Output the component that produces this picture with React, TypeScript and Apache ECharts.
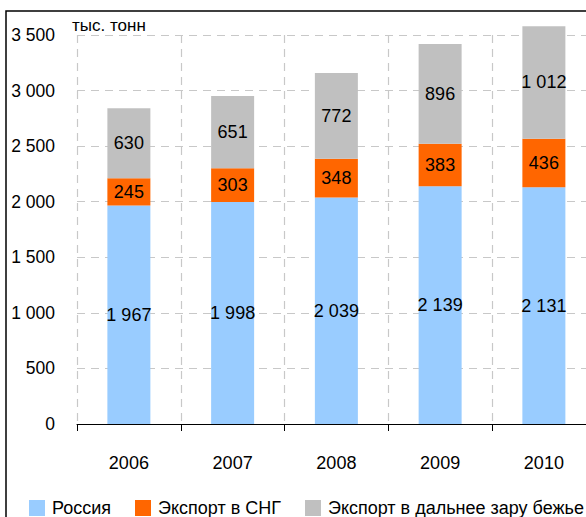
import React, { useEffect, useRef } from "react";
import * as echarts from "echarts";

const categories = ["2006", "2007", "2008", "2009", "2010"];
const russia = [1967, 1998, 2039, 2139, 2131];
const cis = [245, 303, 348, 383, 436];
const farAbroad = [630, 651, 772, 896, 1012];
const seriesNames = ["Россия", "Экспорт в СНГ", "Экспорт в дальнее зару бежье"];
const unitLabel = "тыс. тонн";

const fmt = (v: number) => String(v).replace(/\B(?=(\d{3})+(?!\d))/g, " ");
const FONT = "'Liberation Sans', Arial, sans-serif";

export default function App() {
  const ref = useRef<HTMLDivElement>(null);
  useEffect(() => {
    if (!ref.current) return;
    const chart = echarts.init(ref.current, undefined, { renderer: "svg" });
    const label = {
      show: true,
      position: "inside" as const,
      color: "#000",
      fontSize: 18,
      fontFamily: FONT,
      formatter: (p: any) => fmt(p.value),
    };
    chart.setOption({
      animation: false,
      backgroundColor: "#fff",
      textStyle: { fontFamily: FONT },
      grid: { left: 77, right: 4.25, top: 35, bottom: 93 },
      legend: {
        left: 24,
        top: 494,
        width: 1000,
        itemWidth: 16,
        itemHeight: 16,
        itemGap: 24,
        icon: "rect",
        textStyle: { fontSize: 18, color: "#000", fontFamily: FONT, padding: [0, 0, 0, 2] },
        data: seriesNames,
      },
      graphic: [
        {
          type: "rect",
          shape: { x: 6, y: 11, width: 700, height: 700 },
          style: { fill: "none", stroke: "#000", lineWidth: 1.5 },
          silent: true,
        },
        {
          type: "text",
          left: 72,
          top: 17,
          style: { text: unitLabel, fontSize: 17, fill: "#000", fontFamily: FONT },
        },
      ],
      xAxis: {
        type: "category",
        data: categories,
        axisLine: { lineStyle: { color: "#000", width: 1 } },
        axisTick: { show: true, length: 7, lineStyle: { color: "#000" } },
        axisLabel: { color: "#000", fontSize: 18, margin: 30, fontFamily: FONT },
        splitLine: { show: true, lineStyle: { color: "#c8c8c8", type: [8, 6], width: 1.2 } },
      },
      yAxis: {
        type: "value",
        min: 0,
        max: 3500,
        interval: 500,
        axisLine: { show: false },
        axisTick: { show: false },
        axisLabel: { color: "#000", fontSize: 17.5, margin: 22, fontFamily: FONT, formatter: (v: number) => fmt(v) },
        splitLine: { show: true, lineStyle: { color: "#c8c8c8", type: [8, 6], width: 1.2 } },
      },
      series: [
        { name: seriesNames[0], type: "bar", stack: "a", clip: false, data: russia, barWidth: 43, itemStyle: { color: "#99ccff" }, label },
        { name: seriesNames[1], type: "bar", stack: "a", clip: false, data: cis, barWidth: 43, itemStyle: { color: "#ff6600" }, label },
        { name: seriesNames[2], type: "bar", stack: "a", clip: false, data: farAbroad, barWidth: 43, itemStyle: { color: "#c0c0c0" }, label },
      ],
    });
    return () => chart.dispose();
  }, []);
  return (
    <div style={{ position: "fixed", left: 0, top: 0, width: 586, height: 517, overflow: "hidden", background: "#fff" }}>
      <div ref={ref} style={{ width: 600, height: 517 }} />
    </div>
  );
}
